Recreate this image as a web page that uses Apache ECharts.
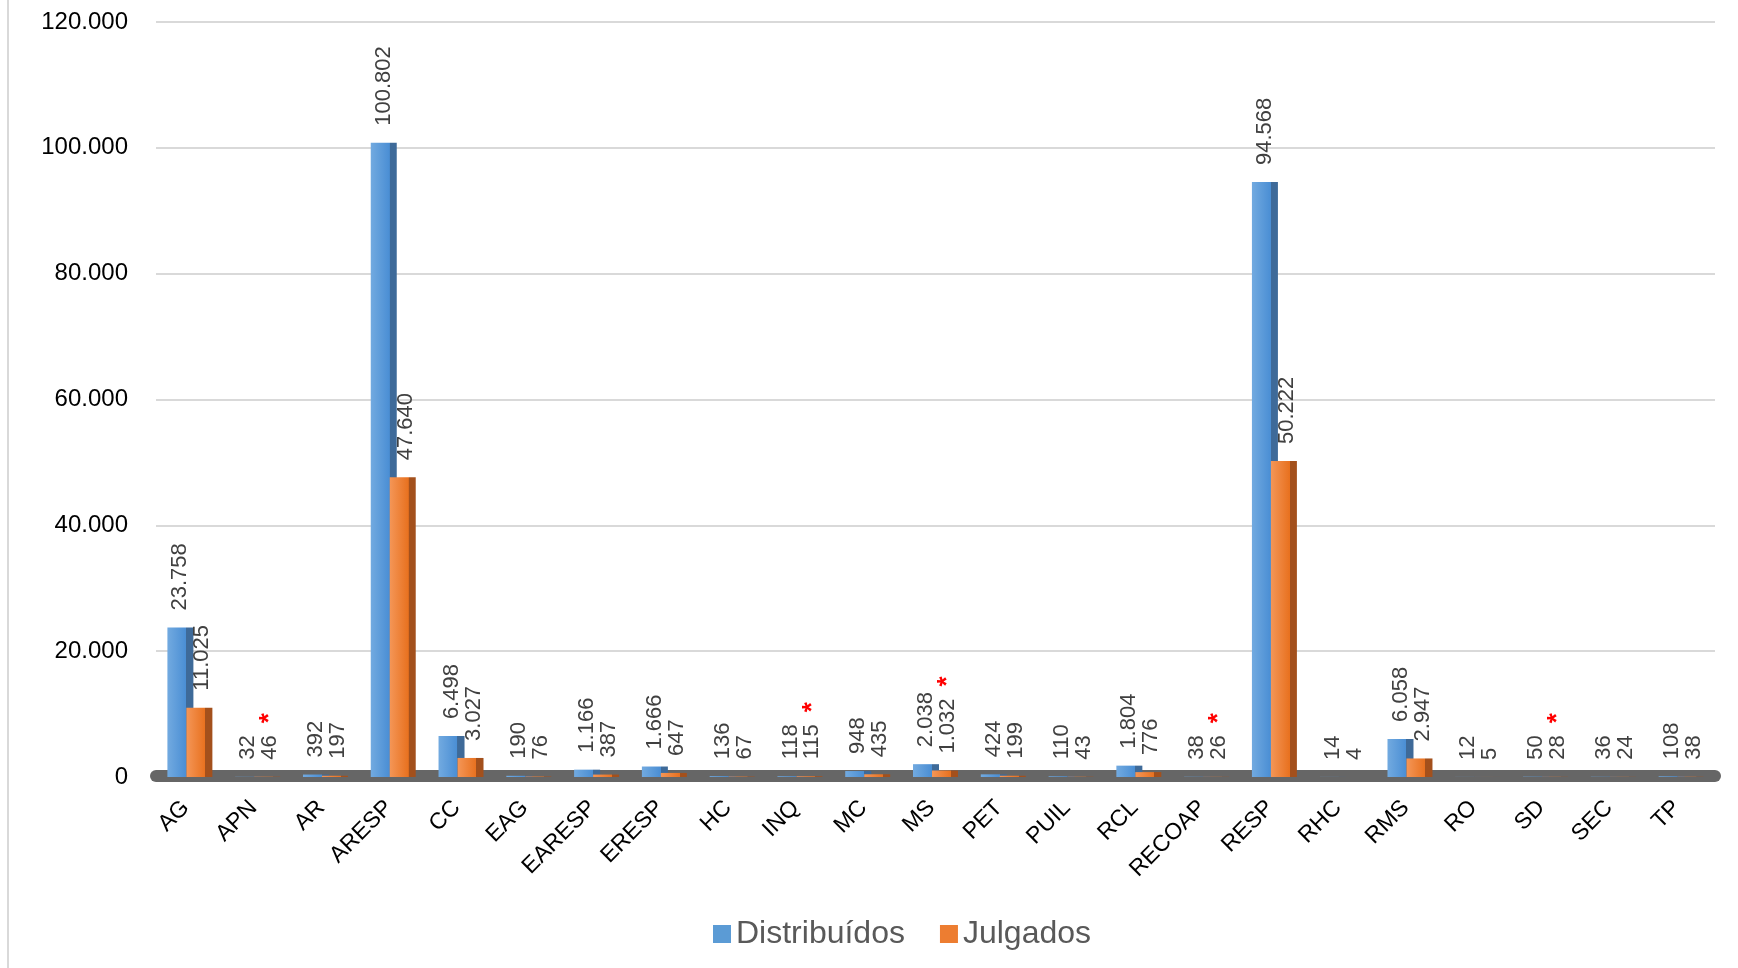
<!DOCTYPE html>
<html>
<head>
<meta charset="utf-8">
<script src="https://cdn.jsdelivr.net/npm/echarts@6/dist/echarts.min.js"></script>
<style>
html,body{margin:0;padding:0;background:#fff;}
#chart{width:1738px;height:968px;}
</style>
</head>
<body>
<div id="chart"></div>
<script>
const categories = ['AG','APN','AR','ARESP','CC','EAG','EARESP','ERESP','HC','INQ','MC','MS','PET','PUIL','RCL','RECOAP','RESP','RHC','RMS','RO','SD','SEC','TP'];
const distribuidos = [23758,32,392,100802,6498,190,1166,1666,136,118,948,2038,424,110,1804,38,94568,14,6058,12,50,36,108];
const julgados = [11025,46,197,47640,3027,76,387,647,67,115,435,1032,199,43,776,26,50222,4,2947,5,28,24,38];
const starred = ['APN','INQ','MS','RECOAP','SD'];
const yTicks = [0,20000,40000,60000,80000,100000,120000];

function fmt(v){ return String(v).replace(/\B(?=(\d{3})+(?!\d))/g,'.'); }

function sideGradient(light, mid, side){
  return new echarts.graphic.LinearGradient(0,0,1,0,[
    {offset:0,color:light},{offset:0.72,color:mid},{offset:0.73,color:side},{offset:1,color:side}
  ]);
}

const chart = echarts.init(document.getElementById('chart'));
const labelBase = {
  show:true, position:'top', rotate:90, align:'left', verticalAlign:'middle',
  distance:17, fontSize:22, color:'#404040', fontFamily:'Liberation Sans, Arial, sans-serif'
};
chart.setOption({
  animation:false,
  textStyle:{fontFamily:'Liberation Sans, Arial, sans-serif'},
  graphic:[{type:'line',shape:{x1:8,y1:0,x2:8,y2:968},style:{stroke:'#d9d9d9',lineWidth:2}}],
  legend:{
    left:708, top:913, itemWidth:18, itemHeight:18, itemGap:35, icon:'rect',
    textStyle:{fontSize:32,color:'#595959'},
    data:[{name:'Distribuídos',itemStyle:{color:'#5B9BD5'}},{name:'Julgados',itemStyle:{color:'#ED7D31'}}]
  },
  grid:{left:156,right:23,top:22,bottom:191,containLabel:false},
  xAxis:{
    type:'category', data:categories, offset:-1,
    axisTick:{show:false},
    axisLine:{show:true,lineStyle:{color:'#666666',width:12}},
    axisLabel:{rotate:45,fontSize:23,color:'#000',margin:24,interval:0,padding:[0,6,0,0]}
  },
  yAxis:{
    type:'value', min:yTicks[0], max:yTicks[yTicks.length-1], interval:yTicks[1]-yTicks[0],
    axisLine:{show:false}, axisTick:{show:false},
    splitLine:{lineStyle:{color:'#d9d9d9',width:2}},
    axisLabel:{fontSize:24,color:'#000',margin:28,formatter:v=>fmt(v)}
  },
  series:[
    {
      name:'Distribuídos', type:'bar', data:distribuidos, barWidth:26, barGap:'-27%',
      itemStyle:{color:sideGradient('#72AAE0','#4A8ED4','#3E6A99')},
      label:Object.assign({},labelBase,{formatter:p=>fmt(p.value)})
    },
    {
      name:'Julgados', type:'bar', data:julgados, barWidth:26, barGap:'-27%',
      itemStyle:{color:sideGradient('#F49657','#E8711F','#A3501C')},
      label:Object.assign({},labelBase,{
        offset:[0,3],
        formatter:p=>'{v|'+fmt(p.value)+'}'+(starred.indexOf(p.name)>=0?'{s|*}':''),
        rich:{
          v:{fontSize:22,color:'#404040'},
          s:{fontSize:26,color:'#ff0000',fontWeight:'bold',padding:[0,0,0,12]}
        }
      })
    }
  ]
});
</script>
</body>
</html>
